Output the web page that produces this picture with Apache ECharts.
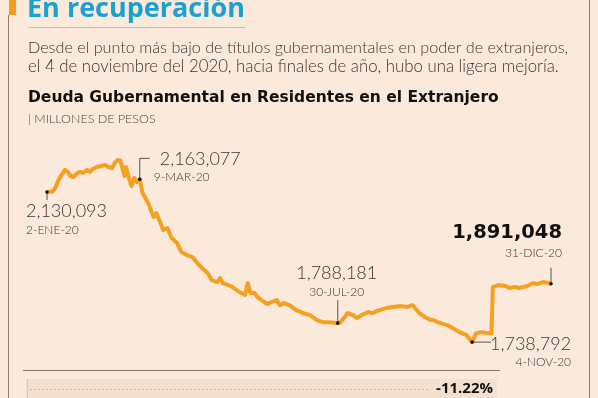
<!DOCTYPE html>
<html>
<head>
<meta charset="utf-8">
<script src="https://cdn.jsdelivr.net/npm/echarts@6/dist/echarts.min.js"></script>
<style>
  html, body { margin: 0; padding: 0; background: #fbe9dc; }
  #chart { width: 598px; height: 398px; }
</style>
</head>
<body>
<div id="chart"></div>
<script>
// serie diaria (aprox.) de deuda gubernamental en poder de extranjeros, millones de pesos
const dates = [
  '2020-01-02','2020-01-06','2020-01-08','2020-01-10','2020-01-12','2020-01-15','2020-01-17','2020-01-19',
  '2020-01-21','2020-01-24','2020-01-26','2020-01-28','2020-01-31','2020-02-02','2020-02-04','2020-02-07',
  '2020-02-10','2020-02-13','2020-02-15','2020-02-18','2020-02-20','2020-02-22','2020-02-24','2020-02-25',
  '2020-02-27','2020-02-28','2020-03-01','2020-03-03','2020-03-05','2020-03-07','2020-03-09','2020-03-11',
  '2020-03-15','2020-03-19','2020-03-21','2020-03-24','2020-03-26','2020-03-29','2020-04-01','2020-04-05',
  '2020-04-08','2020-04-12','2020-04-16','2020-04-19','2020-04-23','2020-04-27','2020-04-30','2020-05-04',
  '2020-05-06','2020-05-08','2020-05-12','2020-05-15','2020-05-20','2020-05-24','2020-05-26','2020-05-28',
  '2020-05-31','2020-06-02','2020-06-05','2020-06-09','2020-06-12','2020-06-16','2020-06-18','2020-06-21',
  '2020-06-25','2020-06-30','2020-07-05','2020-07-10','2020-07-15','2020-07-19','2020-07-24','2020-07-30',
  '2020-08-01','2020-08-04','2020-08-06','2020-08-10','2020-08-13','2020-08-16','2020-08-21','2020-08-24',
  '2020-08-29','2020-09-03','2020-09-08','2020-09-13','2020-09-18','2020-09-22','2020-09-25','2020-09-27',
  '2020-10-01','2020-10-05','2020-10-07','2020-10-12','2020-10-17','2020-10-21','2020-10-26','2020-10-31',
  '2020-11-04','2020-11-07','2020-11-11','2020-11-15','2020-11-18','2020-11-19','2020-11-23','2020-11-28',
  '2020-12-01','2020-12-05','2020-12-08','2020-12-14','2020-12-18','2020-12-21','2020-12-25','2020-12-29',
  '2020-12-31'
];
const values = [
  2130093, 2131400, 2140500, 2158800, 2171800, 2187500, 2182300, 2171800,
  2169200, 2179700, 2182300, 2179700, 2187500, 2182300, 2190100, 2195300,
  2197900, 2200500, 2195300, 2192700, 2205800, 2213600, 2212300, 2208400,
  2171800, 2195300, 2169200, 2145800, 2166600, 2156200, 2163077, 2127500,
  2101400, 2064900, 2075300, 2049200, 2030900, 2036200, 2010100, 1997000,
  1973600, 1965700, 1960500, 1947500, 1931800, 1918800, 1900500, 1895300,
  1905700, 1892700, 1887500, 1882300, 1869200, 1861400, 1892700, 1866600,
  1866600, 1856200, 1848400, 1837900, 1843100, 1848400, 1835300, 1840500,
  1835300, 1822300, 1814400, 1809200, 1796200, 1790900, 1790900, 1788181,
  1790900, 1804000, 1814400, 1809200, 1801400, 1809200, 1817000, 1814400,
  1822300, 1827500, 1830100, 1832700, 1830100, 1835300, 1822300, 1814400,
  1804000, 1796200, 1796200, 1788300, 1783100, 1775300, 1764800, 1757000,
  1738792, 1762200, 1764800, 1762200, 1762200, 1882300, 1887500, 1884900,
  1879700, 1882300, 1879700, 1884900, 1892700, 1890100, 1895300, 1892700,
  1891048
];

// puntos anotados
const noteDates = ['2020-01-02', '2020-03-09', '2020-07-30', '2020-11-04', '2020-12-31'];
const noteValues = [2130093, 2163077, 1788181, 1738792, 1891048];
const noteLabels = ['2-ENE-20', '9-MAR-20', '30-JUL-20', '4-NOV-20', '31-DIC-20'];
const changeLabel = '-11.22%';

const FONT = 'Lato, "Noto Sans", sans-serif';
const HEAVY = '"Open Sans", Lato, sans-serif';
const WIDE = '"DejaVu Sans", "Open Sans", sans-serif';
const TXT = '#3b3633';

// posicion de cada anotacion respecto al punto (px)
const noteLayout = [
  { leader: [[0, 0], [0, 8]], nx: -21, ny: 19, dy: 38, align: 'left', dx: -21 },
  { leader: [[0, 0], [0, -21], [10, -21]], nx: 20, ny: -20, dy: -2, align: 'left', dx: 14 },
  { leader: [[0, 0], [0, -23]], nx: -1, ny: -50, dy: -31, align: 'center', dx: -1 },
  { leader: [[0, 0], [19, 0]], nx: 99, ny: 2, dy: 20, align: 'right', dx: 99 },
  { leader: [[0, 0], [0, -16]], nx: 11, ny: -51, dy: -31, align: 'right', dx: 11, bold: true }
];

const fmt = v => v.toLocaleString('en-US');

const chart = echarts.init(document.getElementById('chart'), null, { renderer: 'canvas' });

const option = {
  backgroundColor: '#fbe9dc',
  animation: false,
  grid: { left: 47, right: 47, top: 146, height: 211 },
  xAxis: {
    type: 'time',
    min: '2020-01-02',
    max: '2020-12-31',
    show: false
  },
  yAxis: {
    type: 'value',
    min: 1700000,
    max: 2250000,
    show: false
  },
  series: [
    {
      type: 'line',
      data: dates.map((d, i) => [d, values[i]]),
      showSymbol: false,
      lineStyle: { color: '#f5a01f', width: 4, join: 'round' },
      z: 2
    },
    {
      type: 'custom',
      clip: false,
      z: 5,
      data: noteDates.map((d, i) => [d, noteValues[i]]),
      renderItem: (params, api) => {
        const i = params.dataIndex;
        const p = api.coord([api.value(0), api.value(1)]);
        const L = noteLayout[i];
        return {
          type: 'group',
          children: [
            {
              type: 'polyline',
              shape: { points: L.leader.map(q => [p[0] + q[0], p[1] + q[1]]) },
              style: { stroke: '#5a5350', lineWidth: 1, fill: null }
            },
            {
              type: 'circle',
              shape: { cx: p[0], cy: p[1], r: 1.8 },
              style: { fill: '#111' }
            },
            {
              type: 'text',
              style: {
                text: fmt(noteValues[i]),
                x: p[0] + L.nx, y: p[1] + L.ny,
                align: L.align, verticalAlign: 'middle',
                fill: L.bold ? '#111' : TXT,
                font: L.bold ? 'bold 19.5px ' + WIDE : '300 18px ' + FONT
              }
            },
            {
              type: 'text',
              style: {
                text: noteLabels[i],
                x: p[0] + L.dx, y: p[1] + L.dy,
                align: L.align, verticalAlign: 'middle',
                fill: TXT,
                font: '300 12px ' + FONT
              }
            }
          ]
        };
      }
    }
  ],
  graphic: [
    { type: 'rect', shape: { x: 9, y: 0, width: 7, height: 15 }, style: { fill: '#f39c1f' } },
    { type: 'line', shape: { x1: 8.5, y1: 15, x2: 8.5, y2: 398 }, style: { stroke: '#8c7b6e', lineWidth: 1 } },
    { type: 'line', shape: { x1: 589.5, y1: 0, x2: 589.5, y2: 398 }, style: { stroke: '#8c7b6e', lineWidth: 1 } },
    {
      type: 'text', x: 27, y: 9,
      style: { text: 'En recuperación', font: 'bold 27px ' + HEAVY, fill: '#1ba1cf', verticalAlign: 'middle' }
    },
    { type: 'line', shape: { x1: 28, y1: 27.5, x2: 245, y2: 27.5 }, style: { stroke: '#8fd0e4', lineWidth: 1 } },
    {
      type: 'text', x: 28, y: 48,
      style: { text: 'Desde el punto más bajo de títulos gubernamentales en poder de extranjeros,', font: '300 16.2px ' + FONT, fill: TXT, verticalAlign: 'middle' }
    },
    {
      type: 'text', x: 28, y: 67,
      style: { text: 'el 4 de noviembre del 2020, hacia finales de año, hubo una ligera mejoría.', font: '300 16.8px ' + FONT, fill: TXT, verticalAlign: 'middle' }
    },
    {
      type: 'text', x: 28, y: 98,
      style: { text: 'Deuda Gubernamental en Residentes en el Extranjero', font: 'bold 15.5px ' + WIDE, fill: '#111', verticalAlign: 'middle' }
    },
    {
      type: 'text', x: 28, y: 119,
      style: { text: '| MILLONES DE PESOS', font: '300 12.5px ' + FONT, fill: '#4a4440', verticalAlign: 'middle' }
    },
    { type: 'line', shape: { x1: 23, y1: 370.5, x2: 500, y2: 370.5 }, style: { stroke: '#8a7666', lineWidth: 1 } },
    { type: 'rect', shape: { x: 26, y: 379, width: 471, height: 19 }, style: { fill: '#f3e0d0' } },
    { type: 'line', shape: { x1: 27.5, y1: 379, x2: 27.5, y2: 398 }, style: { stroke: '#d8c6b8', lineWidth: 1 } },
    { type: 'line', shape: { x1: 30, y1: 389.5, x2: 430, y2: 389.5 }, style: { stroke: '#cdbcae', lineWidth: 1, lineDash: [2, 2] } },
    {
      type: 'text', x: 493, y: 389,
      style: { text: changeLabel, font: 'bold 15px ' + HEAVY, fill: '#111', align: 'right', verticalAlign: 'middle' }
    }
  ]
};

chart.setOption(option);
</script>
</body>
</html>
